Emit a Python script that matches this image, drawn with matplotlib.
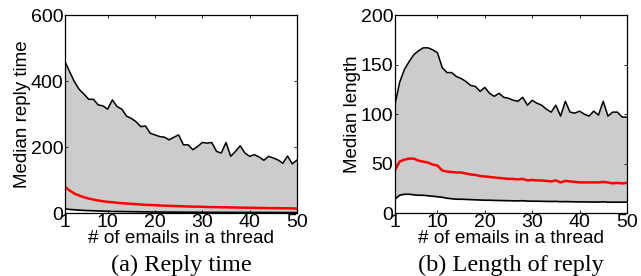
import numpy as np
import matplotlib
matplotlib.use("Agg")
import matplotlib.pyplot as plt

plt.rcParams["font.family"] = ["Liberation Sans", "DejaVu Sans"]

n_emails = np.arange(1, 51)

# (a) reply time
reply_upper = [459, 428, 398, 375, 361, 345, 345, 328, 325, 315,
               343, 323, 315, 294, 287, 277, 262, 264, 242, 237,
               232, 230, 222, 230, 237, 207, 207, 192, 202, 214,
               212, 214, 187, 182, 214, 172, 187, 204, 182, 172,
               177, 170, 160, 172, 167, 161, 151, 173, 149, 161]
reply_median = [80, 68, 59, 53, 48, 44, 41, 38, 36, 34,
                33, 31, 30, 29, 28, 27, 26, 25, 24.5, 24,
                23, 22.5, 22, 21.5, 21, 20.5, 20, 19.5, 19.5, 19,
                18.5, 18, 18, 17.5, 17.5, 17, 17, 16.5, 16.5, 16,
                16, 15.5, 15.5, 15, 15, 15, 14.5, 14.5, 14, 14]
reply_lower = [13, 11, 10, 9, 8, 7.5, 7, 6.5, 6, 5.5,
               5, 4.8, 4.6, 4.4, 4.2, 4, 3.8, 3.6, 3.4, 3.2,
               3.1, 3, 2.9, 2.8, 2.7, 2.6, 2.5, 2.5, 2.4, 2.4,
               2.3, 2.3, 2.2, 2.2, 2.1, 2.1, 2, 2, 2, 1.9,
               1.9, 1.8, 1.8, 1.8, 1.7, 1.7, 1.7, 1.6, 1.6, 1.5]

# (b) length of reply
length_upper = [109, 132, 145, 153, 160, 164, 167, 167, 165, 162,
                147, 142, 142, 138, 136, 133, 129, 128, 123, 127,
                121, 118, 121, 117, 116, 114, 113, 117, 109, 114,
                111, 109, 105, 102, 109, 98, 113, 102, 101, 103,
                100, 98, 103, 99, 113, 98, 102, 102, 97, 97]
length_median = [43, 52, 54, 55, 55, 53, 52, 51, 49, 48,
                 43, 42, 41.5, 41, 41, 40, 39, 38.5, 37.5, 37,
                 36.5, 36, 35.5, 35, 34.5, 34.5, 34, 34.5, 33, 33.5,
                 33, 33, 32.5, 32, 33, 31, 32.5, 32, 31.5, 31,
                 31, 31, 31, 31, 31.5, 31, 30, 30.5, 30, 30.5]
length_lower = [14, 18, 19, 19, 18.5, 18, 18, 17.5, 17, 16.5,
                16, 15, 14.5, 14, 14, 13.8, 13.6, 13.4, 13.2, 13,
                13, 12.8, 12.7, 12.6, 12.5, 12.4, 12.3, 12.5, 12.1, 12,
                12, 11.9, 11.8, 11.7, 11.8, 11.5, 11.6, 11.5, 11.4, 11.3,
                11.3, 11.2, 11.2, 11.1, 11.4, 11, 11, 11, 11, 11]

panels = [
    (reply_upper, reply_median, reply_lower, 600, [0, 200, 400, 600],
     "Median reply time", "(a) Reply time"),
    (length_upper, length_median, length_lower, 200, [0, 50, 100, 150, 200],
     "Median length", "(b) Length of reply"),
]

fig = plt.figure(figsize=(6.41, 2.76), dpi=100)
lefts = [0.1014, 0.616]

for left, (up, med, low, ymax, yticks, ylabel, caption) in zip(lefts, panels):
    ax = fig.add_axes([left, 0.228, 0.362, 0.717])
    ax.fill_between(n_emails, low, up, color="#cccccc", linewidth=0)
    ax.plot(n_emails, up, color="black", lw=1.1)
    ax.plot(n_emails, low, color="black", lw=1.2)
    ax.plot(n_emails, med, color="red", lw=1.8)
    ax.set_xlim(1, 50)
    ax.set_ylim(0, ymax)
    ax.set_xticks([1, 10, 20, 30, 40, 50])
    ax.set_yticks(yticks)
    ax.tick_params(direction="in", length=2, width=0.6, labelsize=14,
                   top=True, right=True, pad=1)
    for spine in ax.spines.values():
        spine.set_linewidth(0.9)
    ax.set_ylabel(ylabel, fontsize=13.5, labelpad=0)
    ax.set_xlabel("# of emails in a thread", fontsize=13.7, labelpad=-1)
    cx = left + 0.362 / 2
    fig.text(cx, 0.04, caption, ha="center", va="center", fontsize=17.5,
             family=["Liberation Serif", "DejaVu Serif"])

fig.savefig("out.png", dpi=100)
